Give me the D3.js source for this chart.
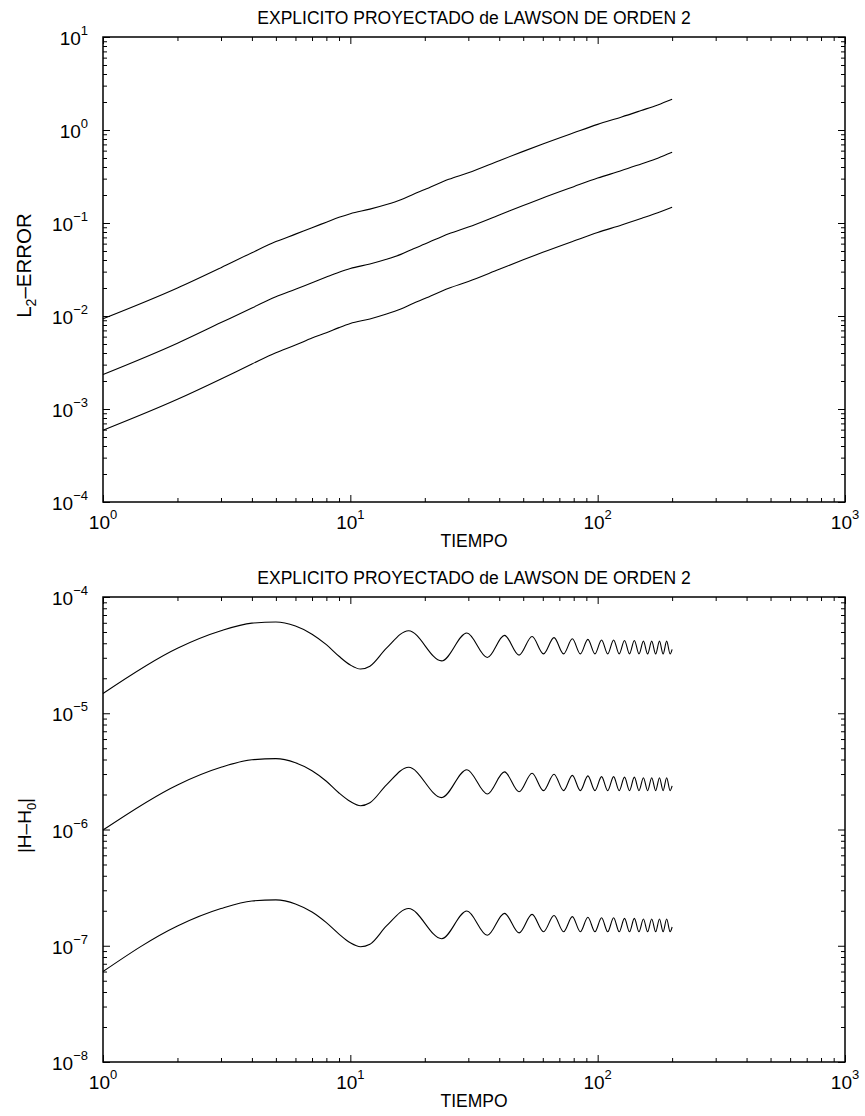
<!DOCTYPE html>
<html>
<head>
<meta charset="utf-8">
<script src="https://cdn.jsdelivr.net/npm/d3@7"></script>
<style>
  body { margin: 0; background: #fff; }
  text { font-family: "Liberation Sans", Arial, Helvetica, sans-serif; fill: #000; }
</style>
</head>
<body>
<svg id="fig" width="865" height="1116"></svg>
<script>
// ---- datos ----
var titulo = "EXPLICITO PROYECTADO de LAWSON DE ORDEN 2";

// panel superior: error L2
var tiempoErr = [1, 2, 3, 4, 5, 6, 7, 8, 9, 10, 12, 14, 16, 18, 20, 25, 30, 40, 50, 60, 80, 100, 125, 150, 175, 200];
var errA = [0.00933, 0.0200, 0.0331, 0.0479, 0.0631, 0.0759, 0.0891, 0.102, 0.115, 0.126, 0.141, 0.158, 0.178,
            0.204, 0.229, 0.295, 0.347, 0.468, 0.589, 0.708, 0.933, 1.15, 1.38, 1.62, 1.86, 2.14];
var errB = [0.00235, 0.0051, 0.0085, 0.0122, 0.0161, 0.0194, 0.0228, 0.0262, 0.0295, 0.0324, 0.0363, 0.0408, 0.0460,
            0.0528, 0.0593, 0.0767, 0.0905, 0.122, 0.154, 0.186, 0.246, 0.304, 0.366, 0.432, 0.498, 0.575];
var errC = [0.00059, 0.00127, 0.0021, 0.00305, 0.00403, 0.00487, 0.0058, 0.0066, 0.0075, 0.0083, 0.0093, 0.0105, 0.0119,
            0.0137, 0.0154, 0.0199, 0.0235, 0.0318, 0.0402, 0.0484, 0.0640, 0.0791, 0.0952, 0.112, 0.129, 0.148];

// panel inferior: |H-H0|
var tiempoH = [1, 2, 3, 4, 5, 6, 7, 8, 9, 10, 11, 12, 14, 17.2, 23.4, 29.6, 35.8, 42, 48.1, 54.3, 60.4, 66.6, 72.8,
               79, 85.1, 91.3, 97.5, 103.7, 109.8, 116, 122.2, 128.4, 134.5, 140.7, 146.9, 153.1, 159.2, 165.4,
               171.6, 177.8, 183.9, 190.1, 196.3, 200];
var hA = [1.48e-5, 3.63e-5, 5.13e-5, 5.96e-5, 6.10e-5, 5.62e-5, 4.79e-5, 3.89e-5, 3.09e-5, 2.60e-5, 2.40e-5, 2.54e-5,
          3.63e-5, 5.13e-5, 2.82e-5, 4.90e-5, 3.02e-5, 4.68e-5, 3.16e-5, 4.57e-5, 3.24e-5, 4.47e-5, 3.24e-5,
          4.37e-5, 3.24e-5, 4.32e-5, 3.24e-5, 4.27e-5, 3.24e-5, 4.27e-5, 3.24e-5, 4.22e-5, 3.24e-5, 4.22e-5,
          3.24e-5, 4.17e-5, 3.24e-5, 4.17e-5, 3.24e-5, 4.17e-5, 3.24e-5, 4.17e-5, 3.24e-5, 3.55e-5];
var hB = [9.9e-7, 2.42e-6, 3.43e-6, 3.98e-6, 4.07e-6, 3.75e-6, 3.20e-6, 2.60e-6, 2.06e-6, 1.74e-6, 1.60e-6, 1.70e-6,
          2.42e-6, 3.43e-6, 1.88e-6, 3.27e-6, 2.02e-6, 3.13e-6, 2.11e-6, 3.05e-6, 2.16e-6, 2.99e-6, 2.16e-6,
          2.92e-6, 2.16e-6, 2.89e-6, 2.16e-6, 2.85e-6, 2.16e-6, 2.85e-6, 2.16e-6, 2.82e-6, 2.16e-6, 2.82e-6,
          2.16e-6, 2.79e-6, 2.16e-6, 2.79e-6, 2.16e-6, 2.79e-6, 2.16e-6, 2.79e-6, 2.16e-6, 2.37e-6];
var hC = [6.0e-8, 1.48e-7, 2.09e-7, 2.43e-7, 2.48e-7, 2.29e-7, 1.95e-7, 1.58e-7, 1.26e-7, 1.06e-7, 9.8e-8, 1.03e-7,
          1.48e-7, 2.09e-7, 1.15e-7, 1.99e-7, 1.23e-7, 1.90e-7, 1.29e-7, 1.86e-7, 1.32e-7, 1.82e-7, 1.32e-7,
          1.78e-7, 1.32e-7, 1.76e-7, 1.32e-7, 1.74e-7, 1.32e-7, 1.74e-7, 1.32e-7, 1.72e-7, 1.32e-7, 1.72e-7,
          1.32e-7, 1.70e-7, 1.32e-7, 1.70e-7, 1.32e-7, 1.70e-7, 1.32e-7, 1.70e-7, 1.32e-7, 1.45e-7];

// ticks
var xTicks = [1, 10, 100, 1000];
var yTicksErr = [1e-4, 1e-3, 1e-2, 1e-1, 1, 10];
var yTicksH = [1e-8, 1e-7, 1e-6, 1e-5, 1e-4];

// ---- dibujo ----
var svg = d3.select("#fig");
var width = 742, height = 465;

function minors(lo, hi) {
  var out = [];
  for (var e = Math.round(Math.log10(lo)); e < Math.round(Math.log10(hi)); e++) {
    for (var m = 2; m <= 9; m++) out.push(m * Math.pow(10, e));
  }
  return out;
}

function expo(v) {
  return String(Math.round(Math.log10(v))).replace("-", "\u2212");
}

function panel(top, yDomain, yTicks, series, tiempo, ylabel, ysize) {
  var g = svg.append("g").attr("transform", "translate(103," + top + ")");

  var x = d3.scaleLog().domain([1, 1000]).range([0, width]);
  var y = d3.scaleLog().domain(yDomain).range([height, 0]);

  var xMin = minors(1, 1000), yMin = minors(yDomain[0], yDomain[1]);

  // ticks hacia dentro en los cuatro lados
  [[d3.axisBottom, x, xTicks, xMin, "translate(0," + height + ")"],
   [d3.axisTop, x, xTicks, xMin, "translate(0,0)"],
   [d3.axisLeft, y, yTicks, yMin, "translate(0,0)"],
   [d3.axisRight, y, yTicks, yMin, "translate(" + width + ",0)"]].forEach(function(a) {
    g.append("g").attr("transform", a[4])
      .call(a[0](a[1]).tickValues(a[2]).tickSizeInner(-7).tickSizeOuter(0).tickFormat(""));
    g.append("g").attr("transform", a[4])
      .call(a[0](a[1]).tickValues(a[3]).tickSizeInner(-4).tickSizeOuter(0).tickFormat(""));
  });
  g.selectAll(".domain").remove();
  g.selectAll(".tick line").attr("stroke", "#000").attr("stroke-width", 1);

  g.append("rect").attr("width", width).attr("height", height)
    .attr("fill", "none").attr("stroke", "#000").attr("stroke-width", 1.5);

  // etiquetas x
  var xl = g.selectAll(".xl").data(xTicks).enter().append("text")
    .attr("x", function(d) { return x(d); })
    .attr("y", height + 27)
    .attr("text-anchor", "middle")
    .style("font-size", "19px");
  xl.append("tspan").text("10");
  xl.append("tspan").attr("dy", -10).style("font-size", "13px").text(function(d) { return expo(d); });

  // etiquetas y
  var yl = g.selectAll(".yl").data(yTicks).enter().append("text")
    .attr("x", -15)
    .attr("y", function(d) { return y(d) + 8; })
    .attr("text-anchor", "end")
    .style("font-size", "19px");
  yl.append("tspan").text("10");
  yl.append("tspan").attr("dy", -10).style("font-size", "13px").text(function(d) { return expo(d); });

  // curvas
  var line = d3.line()
    .x(function(d) { return x(d[0]); })
    .y(function(d) { return y(d[1]); })
    .curve(d3.curveMonotoneX);

  series.forEach(function(s) {
    g.append("path")
      .datum(tiempo.map(function(t, i) { return [t, s[i]]; }))
      .attr("fill", "none").attr("stroke", "#000").attr("stroke-width", 1.1)
      .attr("d", line);
  });

  // titulo y rotulos
  g.append("text").attr("x", width / 2).attr("y", -13)
    .attr("text-anchor", "middle").style("font-size", "17.5px").text(titulo);
  g.append("text").attr("x", width / 2).attr("y", height + 45)
    .attr("text-anchor", "middle").style("font-size", "17.5px").text("TIEMPO");

  var yt = g.append("text")
    .attr("transform", "translate(-72," + (height / 2 - 4) + ") rotate(-90)")
    .attr("text-anchor", "middle").style("font-size", ysize);
  ylabel(yt);
}

panel(37, [1e-4, 10], yTicksErr, [errA, errB, errC], tiempoErr, function(t) {
  t.append("tspan").text("L");
  t.append("tspan").attr("dy", 5).style("font-size", "14px").text("2");
  t.append("tspan").attr("dy", -5).text("\u2013ERROR");
}, "20.5px");

panel(597, [1e-8, 1e-4], yTicksH, [hA, hB, hC], tiempoH, function(t) {
  t.append("tspan").text("|H\u2013H");
  t.append("tspan").attr("dy", 5).style("font-size", "13px").text("0");
  t.append("tspan").attr("dy", -5).text("|");
}, "19px");
</script>
</body>
</html>
